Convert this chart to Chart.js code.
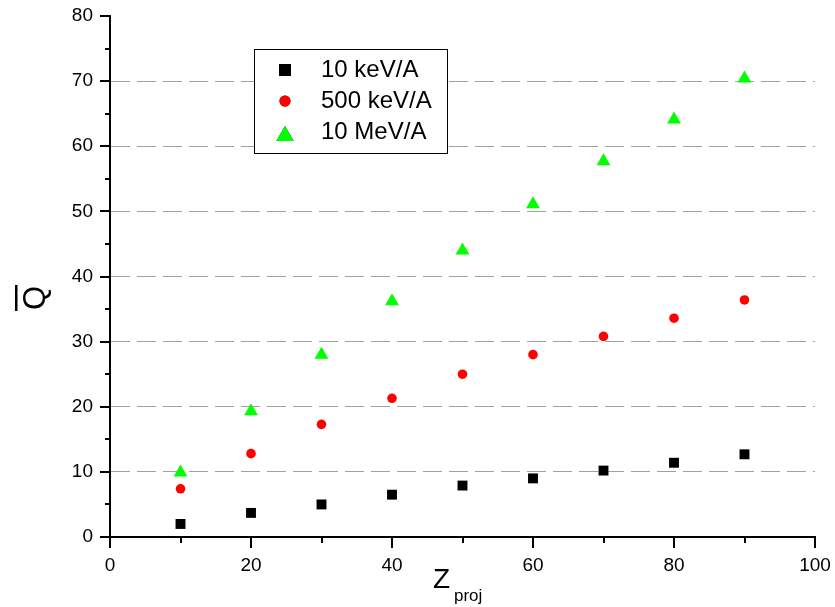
<!DOCTYPE html>
<html lang="en">
<head>
    <meta charset="UTF-8">
    <title>Mean charge vs Zproj</title>
    <style>
        body {
            margin: 0;
            background-color: #fff;
        }
        .chart-box {
            width: 835px;
            height: 607px;
        }
    </style>
</head>
<body>
    <div class="chart-box">
        <canvas id="qChart" width="835" height="607"></canvas>
    </div>

    <script src="https://cdn.jsdelivr.net/npm/chart.js"></script>
    <script>
        // data
        const zProj = [10, 20, 30, 40, 50, 60, 70, 80, 90];
        const q10keV = [2.0, 3.7, 5.0, 6.5, 7.9, 9.0, 10.2, 11.4, 12.7];
        const q500keV = [7.4, 12.8, 17.3, 21.3, 25.0, 28.0, 30.8, 33.6, 36.4];
        const q10MeV = [9.9, 19.3, 28.0, 36.2, 44.0, 51.1, 57.7, 64.1, 70.4];
        const seriesNames = ['10 keV/A', '500 keV/A', '10 MeV/A'];
        const yTicks = [0, 10, 20, 30, 40, 50, 60, 70, 80];
        const xTicks = [0, 20, 40, 60, 80, 100];

        const font = '"Liberation Sans", Arial, sans-serif';

        function toPoints(ys) {
            return zProj.map((x, i) => ({ x: x, y: ys[i] }));
        }

        // tick marks (major + minor), axis titles and the boxed legend
        const decorations = {
            id: 'decorations',
            afterDraw(chart) {
                const ctx = chart.ctx;
                const area = chart.chartArea;
                const xs = chart.scales.x;
                const ys = chart.scales.y;
                ctx.save();
                ctx.strokeStyle = '#000';
                ctx.lineWidth = 2;
                ctx.beginPath();
                for (let v = 0; v <= 80; v += 5) {
                    const py = Math.round(ys.getPixelForValue(v));
                    const len = yTicks.includes(v) ? 10 : 5;
                    ctx.moveTo(area.left - len, py);
                    ctx.lineTo(area.left, py);
                }
                for (let v = 0; v <= 100; v += 10) {
                    const px = Math.round(xs.getPixelForValue(v));
                    const len = xTicks.includes(v) ? 11 : 6;
                    ctx.moveTo(px, area.bottom);
                    ctx.lineTo(px, area.bottom + len);
                }
                ctx.stroke();

                // x title: Z with subscript
                ctx.fillStyle = '#000';
                ctx.textBaseline = 'alphabetic';
                ctx.textAlign = 'left';
                ctx.font = '28px ' + font;
                ctx.fillText('Z', 433, 588);
                ctx.font = '17px ' + font;
                ctx.fillText('proj', 454, 601);

                // y title: Q with overline, rotated
                ctx.save();
                ctx.translate(36, 298);
                ctx.rotate(-Math.PI / 2);
                ctx.font = '31px ' + font;
                ctx.textAlign = 'center';
                ctx.textBaseline = 'middle';
                ctx.fillText('Q', 0, 0);
                ctx.fillRect(-13, -21, 26, 2.5);
                ctx.restore();

                // legend
                ctx.fillStyle = '#fff';
                ctx.fillRect(254, 49, 193, 104);
                ctx.strokeStyle = '#000';
                ctx.lineWidth = 1;
                ctx.strokeRect(254.5, 49.5, 193, 104);
                const rowY = [70, 101, 132];
                const legendRadius = [8.5, 5.5, 10];
                chart.data.datasets.forEach((ds, i) => {
                    Chart.helpers.drawPoint(ctx, {
                        pointStyle: ds.pointStyle,
                        radius: legendRadius[i],
                        rotation: 0,
                        borderWidth: 0
                    }, 285, i === 2 ? rowY[i] + 4 : rowY[i]);
                    ctx.fillStyle = ds.backgroundColor;
                    ctx.fill();
                    ctx.fillStyle = '#000';
                    ctx.font = '24px ' + font;
                    ctx.textAlign = 'left';
                    ctx.textBaseline = 'middle';
                    ctx.fillText(ds.label, 321, rowY[i]);
                });
                ctx.restore();
            }
        };

        const ctx = document.getElementById('qChart').getContext('2d');
        const qChart = new Chart(ctx, {
            type: 'scatter',
            data: {
                datasets: [
                    {
                        label: seriesNames[0],
                        data: toPoints(q10keV),
                        pointStyle: 'rect',
                        pointRadius: 7,
                        backgroundColor: '#000000',
                        borderWidth: 0
                    },
                    {
                        label: seriesNames[1],
                        data: toPoints(q500keV),
                        pointStyle: 'circle',
                        pointRadius: 4.8,
                        backgroundColor: '#ff0000',
                        borderWidth: 0
                    },
                    {
                        label: seriesNames[2],
                        data: toPoints(q10MeV),
                        pointStyle: 'triangle',
                        pointRadius: 8,
                        backgroundColor: '#00ff00',
                        borderWidth: 0
                    }
                ]
            },
            options: {
                responsive: false,
                animation: false,
                layout: {
                    padding: { top: 16, right: 20, left: 0, bottom: 0 }
                },
                plugins: {
                    legend: { display: false },
                    tooltip: { enabled: false }
                },
                scales: {
                    x: {
                        type: 'linear',
                        min: 0,
                        max: 100,
                        afterFit(scale) {
                            scale.height = 70;
                            scale.paddingLeft = 0;
                            scale.paddingRight = 0;
                        },
                        ticks: {
                            stepSize: 10,
                            autoSkip: false,
                            maxRotation: 0,
                            padding: 17,
                            color: '#000',
                            font: { size: 19, family: font },
                            callback: (v) => xTicks.includes(v) ? v : ''
                        },
                        grid: {
                            drawTicks: false,
                            color: 'transparent'
                        },
                        border: { display: true, color: '#000', width: 2 }
                    },
                    y: {
                        min: 0,
                        max: 80,
                        afterFit(scale) {
                            scale.width = 110;
                            scale.paddingTop = 0;
                            scale.paddingBottom = 0;
                        },
                        ticks: {
                            stepSize: 5,
                            autoSkip: false,
                            padding: 17,
                            color: '#000',
                            font: { size: 19, family: font },
                            callback: (v) => yTicks.includes(v) ? v : ''
                        },
                        grid: {
                            drawTicks: false,
                            lineWidth: 1,
                            color: (c) => {
                                const v = c.tick ? c.tick.value : 0;
                                return (v % 10 === 0 && v > 0 && v < 80) ? '#a0a0a0' : 'transparent';
                            }
                        },
                        border: { display: true, color: '#000', width: 2, dash: [19, 7] }
                    }
                }
            },
            plugins: [decorations]
        });
    </script>
</body>
</html>
